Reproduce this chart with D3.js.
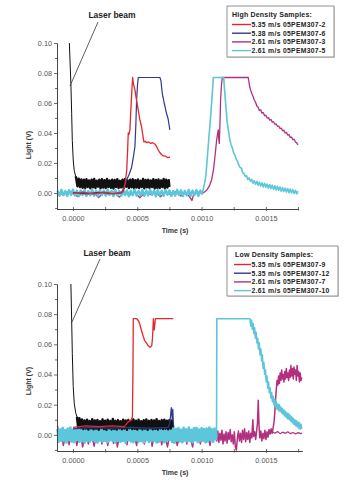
<!DOCTYPE html>
<html><head><meta charset="utf-8">
<script src="https://cdn.jsdelivr.net/npm/d3@7"></script>
<style>body{margin:0;background:#fff}svg{display:block}text{font-family:"Liberation Sans",Arial,sans-serif}</style>
</head><body><svg id="c" width="345" height="480"></svg>
<script>
// Units: time in microseconds, signal in millivolts (labels shown in s and V)
const xMajorTicks = [0, 500, 1000, 1500];
const xMinorTicks = [250, 750, 1250, 1750];
const xTickLabels = ["0.0000", "0.0005", "0.0010", "0.0015"];
const yMajorTicks = [0, 20, 40, 60, 80, 100];
const yMinorTicks = [-10, 10, 30, 50, 70, 90];
const yTickLabels = ["0.00", "0.02", "0.04", "0.06", "0.08", "0.10"];

const topLegendTitle = "High Density Samples:";
const topSeriesNames = ["5.35 m/s 05PEM307-2", "5.38 m/s 05PEM307-6", "2.61 m/s 05PEM307-3", "2.61 m/s 05PEM307-5"];
const botLegendTitle = "Low Density Samples:";
const botSeriesNames = ["5.35 m/s 05PEM307-9", "5.35 m/s 05PEM307-12", "2.61 m/s 05PEM307-7", "2.61 m/s 05PEM307-10"];
const seriesColors = ["#e5262c", "#2c3a8c", "#b3307f", "#5cc6da"];
const laserColor = "#111111";

// ---------- TOP (high density) ----------
const topLaser = [[-28,100],[-16,73],[-10,53],[-5,35],[2,22],[10,15],[21,11],
[25,10],[35,4.5],[45,9.5],[55,4],[65,9],[75,3.5],[85,8.8],[95,3.2],[105,9.2],[115,4],[125,8.4],[135,3.1],[145,8.9],[155,3.8],[165,9.3],[175,3.3],[185,8.2],[195,4.2],[205,8.8],[215,3],[225,9.1],[235,3.6],[245,8.5],[255,3.2],[265,9.4],[275,4],[285,8.3],[295,3.4],[305,8.9],[315,2.9],[325,8.6],[335,3.9],[345,9.2],[355,3.3],[365,8.1],[375,3.7],[385,8.8],[395,3.1],[405,9.3],[415,4.1],[425,8.4],[435,3.2],[445,8.9],[455,3.8],[465,9.1],[475,3],[485,8.5],[495,3.6],[505,9],[515,3.3],[525,8.2],[535,4],[545,9.4],[555,3.1],[565,8.6],[575,3.7],[585,8.9],[595,3.2],[605,8.3],[615,3.9],[625,9.2],[635,3],[645,8.7],[655,3.5],[665,9],[675,3.3],[685,8.4],[695,4],[705,9.3],[715,3.1],[725,8.8],[735,3.6],[745,8.5],[750,4]];

const topRed = [[0,-0.3],[80,0.6],[160,-0.8],[240,0.5],[320,-0.6],[391,0.9],[405,6],[418,15],[425,28],[430,40],[436,39],[443,42],[450,55],[458,68],[464,77],[470,73],[482,68.7],[494,62],[508,55],[520,49],[534,44],[544,38],[552,34],[562,34.5],[573,33.5],[590,34],[605,33],[620,33.5],[638,32.5],[650,31],[663,28.7],[675,27],[690,25.5],[703,24.7],[720,24.5],[735,23.6],[754,23.8]];

const topBlue = [[0,0.3],[100,-0.6],[200,0.4],[300,-0.5],[378,0],[395,3],[417,8.7],[435,12],[456,17],[470,24],[482,31],[489,45],[495,62],[502,72],[508,77],[676,77],[684,75],[690,70],[697,65],[703,63],[709,60],[715,58],[722,55],[728,53],[735,51],[741,49],[748,45],[754,42]];

const topMagenta = [[-120,0.5],[-80,-1],[-40,0.8],[0,-0.5],[40,-2.5],[80,0.6],[120,-1],[160,0.4],[200,-3],[240,0.5],[280,-1.2],[320,0.8],[360,-2.8],[400,0.3],[440,-1.5],[480,0.7],[520,-3.2],[560,0.2],[600,-1],[640,0.6],[680,-2.5],[720,0.4],[760,-1.2],[800,0.9],[840,-2],[870,0.5],[900,-1.8],[925,-5],[940,-0.5],[970,0.8],[1000,-0.5],[1020,0.5],
[1042,2],[1060,4.5],[1078,8.7],[1092,15],[1104,24],[1117,35],[1126,40],[1130,42],[1134,36],[1138,33],[1143,45],[1148,62],[1155,72],[1161,77],[1363,77],
[1372,72],[1380,69],[1390,66.5],[1400,64.5],[1410,62],[1420,60.5],[1430,58],[1440,57.2],[1450,55],[1460,55.5],[1470,53.2],[1480,53.6],[1490,51.5],[1500,51.8],[1510,50],[1520,50.2],[1530,48.6],[1540,49],[1550,47.2],[1560,47.5],[1570,45.8],[1580,46],[1590,44.5],[1600,44.6],[1610,43],[1620,43.2],[1630,41.6],[1640,41.8],[1650,40],[1660,40.4],[1670,38.6],[1680,38.9],[1690,37],[1700,37.2],[1710,35.6],[1720,35.8],[1730,34],[1740,33.4],[1750,32]];

const topCyan = [[-120,1.5],[-105,-1.8],[-90,2],[-75,-1.5],[-60,1.2],[-45,-2],[-30,1.8],[-15,-1.2],[0,2.2],[15,-1.6],[30,1.4],[45,-2.1],[60,1.7],[75,-1.3],[90,2],[105,-1.9],[120,1.3],[135,-1.5],[150,2.1],[165,-1.7],[180,1.5],[195,-2.2],[210,1.9],[225,-1.4],[240,1.6],[255,-1.8],[270,2.2],[285,-1.3],[300,1.4],[315,-2],[330,1.8],[345,-1.6],[360,1.2],[375,-1.9],[390,2],[405,-1.4],[420,1.7],[435,-2.1],[450,1.5],[465,-1.5],[480,2.1],[495,-1.8],[510,1.3],[525,-1.4],[540,1.9],[555,-2],[570,1.6],[585,-1.6],[600,2.2],[615,-1.3],[630,1.4],[645,-2.2],[660,1.8],[675,-1.5],[690,1.5],[705,-1.9],[720,2],[735,-1.2],[750,1.6],[765,-2],[780,1.3],[795,-1.7],[810,2.1],[825,-1.4],[840,1.7],[855,-2.1],[870,1.4],[885,-1.6],[900,2],[915,-1.8],[930,1.5],[945,-1.3],[960,1.9],[975,-2],[990,1.6],[1005,-0.8],
[1012,2],[1020,5],[1030,9],[1040,18],[1050,29],[1058,38],[1065,45],[1073,54],[1080,62],[1088,72],[1092,77],[1172,77],
[1178,70],[1185,62],[1192,55],[1198,48],[1205,44],[1212,40],[1220,35.5],[1230,32],[1240,30],[1250,26.5],[1260,25],[1270,22.5],[1280,21],[1290,18.5],[1300,17],[1310,16.5],[1320,13.5],[1330,13],[1340,11],[1350,11.5],[1360,9],[1370,10],[1380,7.8],[1390,9],[1400,6.5],[1410,8.2],[1420,5.8],[1430,7.8],[1440,5.2],[1450,7.2],[1460,4.6],[1470,6.8],[1480,4],[1490,6.5],[1500,3.8],[1510,6],[1520,3.2],[1530,5.6],[1540,3],[1550,5.2],[1560,2.4],[1570,4.8],[1580,2],[1590,4.4],[1600,1.8],[1610,4],[1620,1.2],[1630,3.6],[1640,1],[1650,3.2],[1660,0.6],[1670,3],[1680,0.2],[1690,2.6],[1700,0],[1710,2.2],[1720,-0.4],[1730,1.8],[1740,-0.6],[1750,1.2]];

// ---------- BOTTOM (low density) ----------
const botLaser = [[-16,100],[-10,76],[-5,54],[2,32],[10,21],[21,14.6],[31,12],
[40,5],[50,11],[60,4.5],[70,10.2],[80,3.8],[90,9.6],[100,4.2],[110,10],[120,3.5],[130,9.2],[140,4.4],[150,10.4],[160,3.7],[170,9.5],[180,4.1],[190,9.9],[200,3.4],[210,9.1],[220,4.6],[230,10.3],[240,3.9],[250,9.4],[260,3.3],[270,10],[280,4.3],[290,9.2],[300,3.6],[310,10.5],[320,4],[330,9.3],[340,3.5],[350,9.8],[360,4.4],[370,9],[380,3.7],[390,10.1],[400,4.2],[410,9.5],[420,3.4],[430,9.9],[440,4.5],[450,9.2],[460,3.8],[470,10.3],[480,4],[490,9.4],[500,3.5],[510,10],[520,4.3],[530,9.1],[540,3.6],[550,9.7],[560,4.1],[570,10.2],[580,3.3],[590,9.3],[600,4.4],[610,9.9],[620,3.7],[630,9.5],[640,4],[650,10.4],[660,3.5],[670,9.2],[680,4.3],[690,9.8],[700,3.8],[710,10.1],[720,4.1],[730,9.4],[740,3.6],[750,9.9],[760,4.2],[770,9.5],[778,5]];

const botRed = [[0,5],[100,6],[200,5.5],[300,6],[400,5.5],[430,8.8],[450,9.5],[462,12],[466,40],[469,77],[495,77],[505,76],[513,75],[521,72.8],[530,70],[540,67],[547,65],[557,62.5],[566,61.5],[573,60.7],[585,59],[599,58],[606,58.5],[612,59],[617,63],[620,67.5],[623,73],[625,77],[629,72],[632,69.5],[636,73],[640,77],[780,77]];

const botBlue = [[0,4],[150,5],[300,4.5],[450,5],[600,4.5],[740,5],[750,7],[758,12],[764,18],[768,14],[772,10],[776,17],[780,8],[784,5]];

const botMagenta = [[-120,6],[-105,-3],[-90,2],[-75,-7],[-60,-2],[-45,3],[-30,-6.5],[-15,1],[0,-3],[15,4],[30,-7],[45,-1],[60,2],[75,-8],[90,-3],[105,1],[120,-6],[135,3],[150,-2],[165,-7.5],[180,0],[195,-4],[210,2.5],[225,-6],[240,-1],[255,3],[270,-7],[285,-2],[300,1],[315,-5.5],[330,2],[345,-8],[360,-1],[375,3.5],[390,-4],[405,0],[420,-6.5],[435,2],[450,-3],[465,7],[480,-2],[495,-7],[510,1],[525,-4],[540,3],[555,-6],[570,0],[585,-3.5],[600,2],[615,-7.5],[630,-1],[645,3],[660,-5],[675,1],[690,-6.5],[705,2],[720,-3],[735,-8],[750,0],[765,2.5],[780,-5],[795,1],[810,-7],[825,-2],[840,3],[855,-4.5],[870,0.5],[885,-6],[900,2],[915,-3],[930,-8],[945,1],[960,-2.5],[975,3],[990,-6],[1005,-1],[1020,2],[1035,-5],[1050,0],[1065,-7],[1080,1.5],[1095,-3],[1110,2],
[1118,-4],[1126,2.5],[1134,-5],[1142,1],[1150,-3.5],[1158,3],[1166,-6],[1174,0.5],[1182,-4],[1190,2],[1198,-5.5],[1206,1.5],[1214,-3],[1222,3.5],[1230,-4.5],[1238,0],[1246,-6],[1254,2],[1262,-8],[1270,-10],[1278,-2],[1286,2.5],[1294,-4],[1302,1],[1310,-5],[1318,3],[1326,-3],[1334,4],[1342,-4.5],[1350,1.5],[1358,-3],[1366,2.5],[1374,-5],[1382,1],[1390,-2],[1398,10],[1404,-1],[1412,2],[1420,-3],[1428,3],[1434,8],[1440,23],[1446,6],[1452,-2],[1460,2.5],[1468,-4],[1476,1],[1484,-2.5],[1492,3],[1500,-3],[1508,2],[1516,-1.5],[1524,3.5],[1532,0.5],[1540,4],[1548,1],[1556,5],[1562,8],[1568,14],[1574,23],[1580,30],[1586,36],[1592,33],[1598,39],[1604,34],[1610,41],[1616,36],[1622,43],[1628,37],[1634,40],[1640,35],[1646,42],[1652,37],[1658,44],[1664,38],[1670,41],[1676,36],[1682,43],[1688,38],[1694,46],[1700,39],[1706,44],[1712,37],[1718,45],[1724,40],[1730,43],[1736,36],[1742,46],[1748,39],[1754,42],[1760,35],[1766,41],[1772,36],[1778,38]];

const botMagentaLow = [[1532,1],[1550,2],[1570,1],[1590,2.2],[1610,0.8],[1630,1.8],[1650,1],[1670,2],[1690,0.8],[1710,1.6],[1730,0.6],[1750,1.5],[1770,0.8],[1780,1.2]];

const botCyan = [[-120,4],[-110,-4.5],[-100,3.5],[-90,-3.8],[-80,4.6],[-70,-4.2],[-60,3.2],[-50,-5],[-40,4.1],[-30,-3.6],[-20,4.8],[-10,-4.4],[0,3.4],[10,-4.9],[20,4.3],[30,-3.5],[40,4.7],[50,-4.6],[60,3.6],[70,-4.1],[80,4.4],[90,-5.2],[100,3.3],[110,-3.9],[120,4.5],[130,-4.7],[140,3.8],[150,-3.4],[160,4.9],[170,-4.3],[180,3.5],[190,-5.1],[200,4.2],[210,-3.7],[220,4.6],[230,-4.5],[240,3.1],[250,-4],[260,4.4],[270,-4.8],[280,3.7],[290,-3.5],[300,4.8],[310,-4.2],[320,3.4],[330,-5],[340,4.3],[350,-3.8],[360,4.5],[370,-4.6],[380,3.6],[390,-4.1],[400,4.7],[410,-5.2],[420,3.5],[430,-3.6],[440,4.2],[450,-4.4],[460,3.9],[470,-4.9],[480,4.6],[490,-3.7],[500,3.3],[510,-4.5],[520,4.9],[530,-4],[540,3.6],[550,-5.1],[560,4.3],[570,-3.5],[580,4.5],[590,-4.7],[600,3.4],[610,-4.2],[620,4.7],[630,-3.9],[640,3.8],[650,-5],[660,4.4],[670,-4.3],[680,3.2],[690,-3.6],[700,4.6],[710,-4.8],[720,3.7],[730,-4.1],[740,4.9],[750,-3.4],[760,3.5],[770,-4.6],[780,4.2],[790,-5.2],[800,3.9],[810,-3.8],[820,4.5],[830,-4.4],[840,3.3],[850,-4.9],[860,4.7],[870,-3.7],[880,3.6],[890,-4.5],[900,4.8],[910,-4],[920,3.4],[930,-5],[940,4.3],[950,-3.6],[960,4.6],[970,-4.7],[980,3.5],[990,-4.2],[1000,4.4],[1010,-3.9],[1020,3.8],[1030,-4.8],[1040,4.1],[1050,-4.3],[1060,4.9],[1070,-3.5],[1080,3.6],[1090,-4.6],[1100,4.2],[1110,-3],[1116,0],[1117,40],[1118,77],[1376,77],
[1382,72],[1388,76],[1394,70],[1400,74],[1406,67],[1412,71],[1418,64],[1424,68],[1430,61],[1436,64],[1442,57],[1448,61],[1454,53],[1460,57],[1466,49],[1472,53],[1478,44],[1484,48],[1490,40],[1496,43],[1502,35],[1508,39],[1514,31],[1520,35],[1526,28],[1532,31],[1538,24.5],[1544,28],[1550,22],[1556,25.5],[1562,20],[1568,23.5],[1574,18.5],[1580,22],[1586,17],[1592,20.5],[1598,16],[1604,20],[1610,15.5],[1616,18.5],[1622,14.5],[1628,17.5],[1634,13.5],[1640,16.5],[1646,12.5],[1652,15.5],[1658,11.5],[1664,14.5],[1670,10.5],[1676,14],[1682,10],[1688,13],[1694,9],[1700,12],[1706,8],[1712,11],[1718,7],[1724,10],[1730,6],[1736,9.5],[1742,5.5],[1748,8.5],[1754,4.5],[1760,8],[1766,3.8],[1772,7],[1778,4]];

const svg = d3.select("#c");

function panel(cfg) {
  const x = d3.scaleLinear().domain([-124, cfg.tMax]).range([57, cfg.xRight]);
  const y = d3.scaleLinear().domain([-10.7, 100]).range([cfg.yBottom, cfg.yTop]);
  const g = svg.append("g");
  const line = d3.line().x(d => x(d[0])).y(d => y(d[1]));

  // traces (drawn back to front); noisy stretches drawn with a heavier pen
  cfg.traces.forEach(t => {
    g.append("path").datum(t.data).attr("d", line)
      .attr("fill", "none").attr("stroke", t.color)
      .attr("stroke-width", t.w).attr("stroke-linejoin", "round");
    if (t.noisyFrom !== undefined) {
      g.append("path").datum(t.data.filter(d => d[0] >= t.noisyFrom && d[0] <= t.noisyTo)).attr("d", line)
        .attr("fill", "none").attr("stroke", t.color)
        .attr("stroke-width", t.nw).attr("stroke-linejoin", "round");
    }
  });

  // axes
  const axCol = "#444";
  g.append("g").attr("transform", `translate(57,0)`)
    .call(d3.axisLeft(y).tickValues(yMajorTicks).tickSize(3).tickSizeOuter(0).tickPadding(2)
      .tickFormat((d, i) => yTickLabels[i]));
  g.append("g").attr("transform", `translate(57,0)`)
    .call(d3.axisLeft(y).tickValues(yMinorTicks).tickSize(2).tickSizeOuter(0).tickFormat(""));
  g.append("g").attr("transform", `translate(0,${cfg.yBottom})`)
    .call(d3.axisBottom(x).tickValues(xMajorTicks).tickSize(2).tickSizeOuter(0).tickPadding(5)
      .tickFormat((d, i) => xTickLabels[i]));
  g.append("g").attr("transform", `translate(0,${cfg.yBottom})`)
    .call(d3.axisBottom(x).tickValues(xMajorTicks.concat(xMinorTicks)).tickSize(-2).tickSizeOuter(0).tickFormat(""));
  g.append("g").attr("transform", `translate(0,${cfg.yBottom})`)
    .call(d3.axisBottom(x).tickValues(xMinorTicks).tickSize(1.5).tickSizeOuter(0).tickFormat(""));
  g.selectAll(".domain").attr("stroke", axCol).attr("stroke-width", 0.9);
  g.selectAll(".tick line").attr("stroke", axCol).attr("stroke-width", 0.8);
  g.selectAll(".tick text").attr("fill", "#555").style("font-size", "7.3px")
    .style("font-family", '"Liberation Sans",Arial,sans-serif');

  // axis titles
  g.append("text").attr("transform", `translate(${cfg.yLabelX},${cfg.yLabelY}) rotate(-90)`)
    .attr("text-anchor", "middle").attr("dy", "0.35em")
    .style("font-size", "7px").style("font-weight", "bold").attr("fill", "#333").text("Light (V)");
  g.append("text").attr("x", 175).attr("y", cfg.yBottom + 24)
    .attr("text-anchor", "middle")
    .style("font-size", "7px").style("font-weight", "bold").attr("fill", "#333").text("Time (s)");

  // annotation
  g.append("line").attr("x1", cfg.ann[0]).attr("y1", cfg.ann[1]).attr("x2", cfg.ann[2]).attr("y2", cfg.ann[3])
    .attr("stroke", "#333").attr("stroke-width", 0.8);
  g.append("text").attr("x", cfg.annText[0]).attr("y", cfg.annText[1]).attr("text-anchor", "middle")
    .style("font-size", "8.5px").style("font-weight", "bold").attr("fill", "#222").text("Laser beam");

  // legend
  const L = cfg.legend;
  const lg = g.append("g");
  lg.append("rect").attr("x", L.x + 1).attr("y", L.y + 1).attr("width", L.w).attr("height", L.h)
    .attr("fill", "#ddd");
  lg.append("rect").attr("x", L.x).attr("y", L.y).attr("width", L.w).attr("height", L.h)
    .attr("fill", "#fff").attr("stroke", "#777").attr("stroke-width", 0.8);
  lg.append("text").attr("x", L.titleX).attr("y", L.y + 10.5)
    .style("font-size", "7px").style("font-weight", "bold").style("letter-spacing", "0.2px")
    .attr("fill", "#222").text(L.title);
  L.names.forEach((n, i) => {
    const yy = L.y + 18.5 + i * 8.7;
    lg.append("line").attr("x1", L.lineX0).attr("x2", L.lineX1).attr("y1", yy).attr("y2", yy)
      .attr("stroke", seriesColors[i]).attr("stroke-width", 1.4);
    lg.append("text").attr("x", L.lineX1 + 0.5).attr("y", yy).attr("dy", "0.35em")
      .style("font-size", "6.8px").style("font-weight", "bold").style("letter-spacing", "0.3px")
      .attr("fill", "#222").text(n);
  });
}

panel({
  tMax: 1750, xRight: 298, yTop: 43, yBottom: 209, yLabelX: 29, yLabelY: 145,
  ann: [98, 22, 70, 86], annText: [112, 18],
  legend: { x: 227, y: 6, w: 107, h: 51, title: topLegendTitle, titleX: 232, names: topSeriesNames, lineX0: 232, lineX1: 251 },
  traces: [
    { data: topMagenta, color: seriesColors[2], w: 1.3 },
    { data: topLaser, color: laserColor, w: 1.0, noisyFrom: 21, noisyTo: 760, nw: 2.4 },
    { data: topCyan, color: seriesColors[3], w: 1.6, noisyFrom: -130, noisyTo: 1010, nw: 2.4 },
    { data: topBlue, color: seriesColors[1], w: 1.2 },
    { data: topRed, color: seriesColors[0], w: 1.3 }
  ]
});

panel({
  tMax: 1780, xRight: 302, yTop: 284, yBottom: 451, yLabelX: 29, yLabelY: 381,
  ann: [100, 259, 72, 322], annText: [107, 256],
  legend: { x: 227, y: 246, w: 111, h: 50, title: botLegendTitle, titleX: 235, names: botSeriesNames, lineX0: 234, lineX1: 251 },
  traces: [
    { data: botMagenta, color: seriesColors[2], w: 1.5 },
    { data: botCyan, color: seriesColors[3], w: 1.6, noisyFrom: -130, noisyTo: 1116, nw: 2.6 },
    { data: botLaser, color: laserColor, w: 1.0, noisyFrom: 31, noisyTo: 790, nw: 2.4 },
    { data: botMagentaLow, color: seriesColors[2], w: 1.2 },
    { data: botBlue, color: seriesColors[1], w: 1.2 },
    { data: botRed, color: seriesColors[0], w: 1.3 }
  ]
});
</script>
</body></html>
